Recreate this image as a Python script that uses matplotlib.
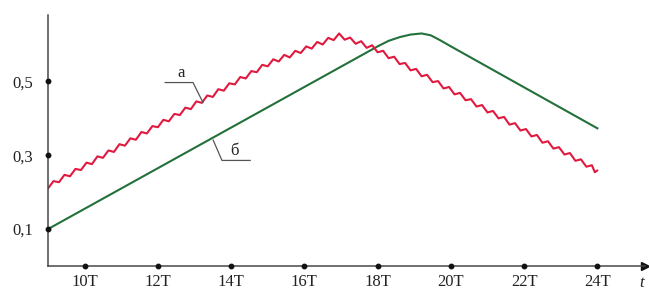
import numpy as np
import matplotlib
matplotlib.use('Agg')
import matplotlib.pyplot as plt

plt.rcParams['font.family'] = ['Liberation Serif', 'DejaVu Serif']

# x ticks (in units of T) and y ticks
x_ticks = [10, 12, 14, 16, 18, 20, 22, 24]
x_labels = ['10T', '12T', '14T', '16T', '18T', '20T', '22T', '24T']
y_ticks = [0.1, 0.3, 0.5]
y_labels = ['0,1', '0,3', '0,5']

# curve "a" (red, wavy), ripple peaks/troughs
red_t = [9.00, 9.15, 9.30, 9.45, 9.60, 9.75, 9.90, 10.05, 10.20, 10.35,
         10.50, 10.65, 10.80, 10.95, 11.10, 11.25, 11.40, 11.55, 11.70, 11.85,
         12.00, 12.15, 12.30, 12.45, 12.60, 12.75, 12.90, 13.05, 13.20, 13.35,
         13.50, 13.65, 13.80, 13.95, 14.10, 14.25, 14.40, 14.55, 14.70, 14.85,
         15.00, 15.15, 15.30, 15.45, 15.60, 15.75, 15.90, 16.05, 16.20, 16.35,
         16.50, 16.65, 16.80, 16.95, 17.10, 17.25, 17.40, 17.55, 17.70, 17.85,
         18.00, 18.15, 18.30, 18.45, 18.60, 18.75, 18.90, 19.05, 19.20, 19.35,
         19.50, 19.65, 19.80, 19.95, 20.10, 20.25, 20.40, 20.55, 20.70, 20.85,
         21.00, 21.15, 21.30, 21.45, 21.60, 21.75, 21.90, 22.05, 22.20, 22.35,
         22.50, 22.65, 22.80, 22.95, 23.10, 23.25, 23.40, 23.55, 23.70, 23.85,
         23.93, 24.00]
red_v = [0.210, 0.230, 0.227, 0.247, 0.243, 0.263, 0.260, 0.280, 0.276, 0.297,
         0.293, 0.313, 0.309, 0.330, 0.326, 0.346, 0.342, 0.363, 0.359, 0.379,
         0.376, 0.396, 0.392, 0.412, 0.409, 0.429, 0.425, 0.446, 0.442, 0.462,
         0.458, 0.479, 0.475, 0.495, 0.492, 0.512, 0.508, 0.528, 0.525, 0.545,
         0.541, 0.560, 0.554, 0.572, 0.565, 0.583, 0.577, 0.595, 0.589, 0.607,
         0.600, 0.618, 0.612, 0.630, 0.613, 0.619, 0.602, 0.609, 0.591, 0.598,
         0.579, 0.583, 0.563, 0.567, 0.547, 0.550, 0.530, 0.534, 0.514, 0.518,
         0.498, 0.501, 0.481, 0.485, 0.465, 0.469, 0.449, 0.452, 0.432, 0.436,
         0.416, 0.420, 0.400, 0.404, 0.383, 0.387, 0.367, 0.371, 0.351, 0.355,
         0.334, 0.338, 0.318, 0.322, 0.302, 0.306, 0.285, 0.289, 0.269, 0.273,
         0.254, 0.259]

# curve "б" (green)
green_t = [9.0, 18.0, 18.3, 18.6, 18.9, 19.2, 19.45, 19.7, 20.0, 24.0]
green_v = [0.100, 0.595, 0.610, 0.620, 0.627, 0.630, 0.625, 0.612, 0.595, 0.373]

# label leaders
lead_a = ([12.2, 12.96, 13.23], [0.497, 0.497, 0.443])
lead_b = ([13.51, 13.75, 14.52], [0.341, 0.286, 0.286])

RED = '#e0193f'
GREEN = '#22703a'
AXC = '#484848'

fig = plt.figure(figsize=(6.49, 2.91), dpi=100)
ax = fig.add_axes([48/649, 25/291, 597/649, 251/291])
ax.set_xlim(9, 25.3)
ax.set_ylim(0, 0.68)

for s in ['top', 'right']:
    ax.spines[s].set_visible(False)
for s in ['left', 'bottom']:
    ax.spines[s].set_color(AXC)
    ax.spines[s].set_linewidth(1.1)

ax.set_xticks(x_ticks)
ax.set_xticklabels(x_labels, fontsize=12)
ax.set_yticks(y_ticks)
ax.set_yticklabels(y_labels, fontsize=12)
ax.tick_params(axis='x', length=0, pad=6, colors='#222222')
ax.tick_params(axis='y', length=0, pad=11, colors='#222222')

# arrows at axis ends
ax.plot(1, 0, '>', color='#111111', ms=6, transform=ax.get_yaxis_transform(), clip_on=False)
ax.plot(0, 1, '^', color='#111111', ms=6, transform=ax.get_xaxis_transform(), clip_on=False)

# tick dots
ax.plot(x_ticks, [0] * len(x_ticks), 'o', color='#111111', ms=3.2, clip_on=False, zorder=5)
ax.plot([9] * len(y_ticks), y_ticks, 'o', color='#111111', ms=3.2, clip_on=False, zorder=5)

ax.plot(green_t, green_v, color=GREEN, lw=1.5, solid_joinstyle='round')
ax.plot(red_t, red_v, color=RED, lw=1.5, solid_joinstyle='round', solid_capstyle='round')

ax.plot(*lead_a, color='#555555', lw=0.9)
ax.plot(*lead_b, color='#555555', lw=0.9)
ax.text(12.62, 0.500, 'а', fontsize=12, ha='center', va='bottom', color='#222222')
ax.text(14.1, 0.289, 'б', fontsize=12, ha='center', va='bottom', color='#222222')

ax.text(25.2, -0.045, 't', fontsize=12, style='italic', ha='center', va='center', color='#222222')

fig.savefig('out.png', dpi=100)
